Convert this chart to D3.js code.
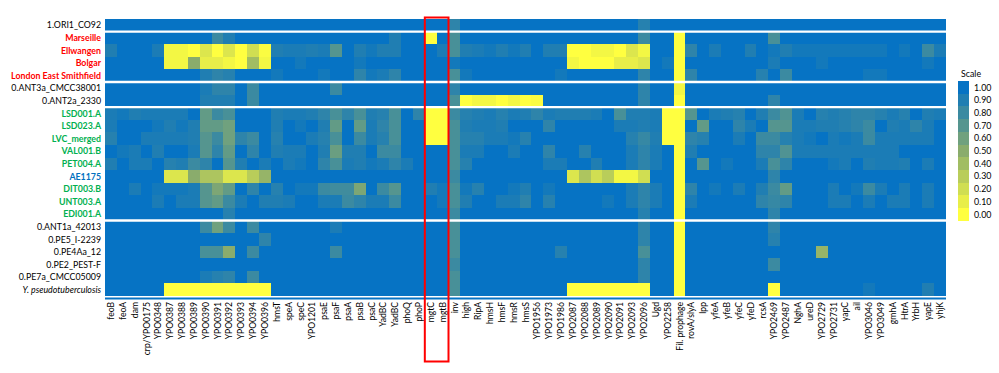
<!DOCTYPE html>
<html>
<head>
<meta charset="utf-8">
<style>
body { margin: 0; background: #fff; }
svg text { font-family: Lato, "Open Sans", sans-serif; }
</style>
</head>
<body>
<div id="chart"></div>
<script src="https://cdn.jsdelivr.net/npm/d3@7"></script>
<script>
// gene columns (x axis) - note YadBC appears twice
var genes = ["feoB","feoA","dam","crp/YPO0175","YPO0348","YPO0387","YPO0388","YPO0389","YPO0390","YPO0391",
  "YPO0392","YPO0393","YPO0394","YPO0396","hmsT","speA","speC","YPO1201","psaE","psaF",
  "psaA","psaB","psaC","YadBC","YadBC","phoQ","phoP","mgtC","mgtB","inv",
  "high","RipA","hmsH","hmsF","hmsR","hmsS","YPO1956","YPO1973","YPO1986","YPO2087",
  "YPO2088","YPO2089","YPO2090","YPO2091","YPO2093","YPO2096","Ugd","YPO2258","Fil. prophage","rovA/slyA",
  "lpp","yfeA","yfeB","yfeC","yfeD","rcsA","YPO2469","YPO2487","NghA","ureD",
  "YPO2729","YPO2731","yapC","ail","YPO3046","YPO3049","gmhA","HtrA","YrbH","yapE","yhjK"];

// genomes (rows) and label colours
var genomes = ["1.ORI1_CO92","Marseille","Ellwangen","Bolgar","London East Smithfield",
  "0.ANT3a_CMCC38001","0.ANT2a_2330","LSD001.A","LSD023.A","LVC_merged","VAL001.B","PET004.A",
  "AE1175","DIT003.B","UNT003.A","EDI001.A","0.ANT1a_42013","0.PE5_I-2239","0.PE4Aa_12",
  "0.PE2_PEST-F","0.PE7a_CMCC05009","Y. pseudotuberculosis"];
var groups = ["ref","red","red","red","red","black","black","green","green","green","green","green",
  "blue","green","green","green","black","black","black","black","black","italic"];
// separators drawn after these row indices
var breaksAfter = [0, 4, 6, 15];

// coverage values per genome, one per gene column
var ori1 =    [1,1,1,1,1,1,1,1,1,1, 1,1,1,1,1,1,1,1,1,1, 1,1,1,1,1,1,1,1,1,0.85, 1,1,1,1,1,1,1,1,1,1, 1,1,1,1,1,0.88,1,1,1,1, 1,1,1,1,1,1,1,1,1,1, 1,1,1,1,1,1,1,1,1,1, 1];
var marseille=[1,1,1,1,1,1,1,1,1,0.8, 0.9,1,1,1,1,1,1,1,1,1, 1,1,1,1,0.9,1,1,0,1,0.75, 1,1,1,1,1,1,1,1,1,1, 1,1,1,1,1,0.8,1,1,0,1, 1,1,1,1,1,1,0.75,1,1,1, 1,1,1,1,1,1,1,1,1,1, 1];
var ellwangen=[0.9,1,1,1,0.92,0.05,0.05,0,0.15,0, 0.15,0,0.2,0.02,0.9,0.92,0.92,0.9,0.92,0.7, 1,0.9,0.95,0.9,0.9,1,1,1,0.92,0.75, 0.9,0.92,0.95,0.9,0.95,0.9,1,0.9,0.9,0, 0,0.05,0.05,0,0.15,0.05,1,1,0,0.85, 1,0.92,1,1,0.9,1,0.95,0.9,0.95,0.95, 0.95,0.95,0.95,0.95,0.95,0.95,1,0.95,1,0.8, 0.92];
var bolgar =  [1,1,1,1,1,0.05,0.05,0.5,0.1,0.1, 0.05,0,0.4,0.05,1,1,0.95,1,1,1, 1,0.95,1,1,1,1,1,1,1,0.95, 1,1,1,1,1,1,1,1,1,0.05, 0,0,0,0.1,0.1,0.15,1,0.95,0,1, 1,1,1,1,1,1,0.92,1,1,1, 0.95,1,1,1,1,1,1,1,1,0.95, 1];
var london =  [1,1,1,1,1,1,1,1,0.9,0.85, 0.88,1,1,1,0.95,1,1,1,0.95,1, 1,0.85,0.95,0.92,0.85,1,1,1,1,0.75, 0.95,1,1,1,1,1,1,1,0.95,1, 1,1,1,1,1,0.85,1,1,0,0.85, 1,1,1,1,1,0.88,1,0.8,1,1, 1,1,1,1,0.95,0.95,1,1,1,1, 1];
var ant3a =   [1,1,1,1,1,1,1,1,0.92,0.85, 0.85,1,0.8,1,1,1,1,1,1,0.8, 1,1,1,1,1,1,1,1,1,0.85, 1,1,1,1,1,1,1,1,1,1, 1,1,1,1,1,0.85,1,1,0.05,1, 1,1,1,1,1,1,1,1,1,1, 1,1,1,1,1,1,1,1,1,1, 1];
var ant2a =   [1,1,1,1,1,1,1,1,0.9,0.9, 0.9,1,0.8,1,1,1,1,1,1,1, 1,1,1,1,1,1,1,1,1,0.75, 0,0.05,0.05,0,0.05,0,0.02,1,1,1, 1,1,1,1,1,0.85,1,1,0,1, 1,1,1,1,1,1,0.85,1,1,1, 1,1,1,1,1,1,1,1,1,1, 1];
var lsd001 =  [0.92,0.95,0.9,0.92,0.92,0.92,0.92,1,0.65,0.8, 0.75,1,1,1,0.9,0.92,0.92,0.9,0.85,0.75, 0.85,0.75,0.9,0.88,0.75,1,0.85,0,0,0.8, 0.88,0.9,0.92,0.88,0.92,0.9,0.85,0.92,0.9,0.9, 0.9,0.92,1,0.75,0.9,0.9,0.92,0,0,0.7, 1,0.92,0.9,0.88,1,0.9,0.8,0.72,0.92,1, 0.88,0.9,0.88,0.85,0.85,0.88,0.92,0.88,1,0.9, 0.92];
var lsd023 =  [0.92,1,1,1,0.95,0.9,0.95,0.9,0.65,0.65, 0.6,1,1,1,0.9,1,0.95,1,0.9,0.65, 1,0.65,0.92,0.85,0.75,1,1,0,0,0.75, 0.9,0.92,0.92,0.9,1,1,1,0.85,1,1, 1,1,1,0.92,0.92,0.9,0.92,0,0,1, 0.65,1,1,0.85,0.92,1,0.7,0.7,0.92,0.92, 0.9,0.9,0.88,0.85,0.8,1,0.9,0.92,0.85,0.92, 1];
var lvc =     [0.88,1,1,0.92,0.92,0.92,0.92,0.9,0.7,0.8, 0.6,0.85,0.8,1,0.88,1,1,0.92,0.88,0.75, 1,0.8,0.92,0.88,0.75,1,1,0,0,0.75, 0.88,0.88,0.92,0.92,0.95,0.88,1,1,1,1, 1,1,1,1,0.88,0.82,0.9,0,0,0.85, 0.88,1,1,0.92,1,0.8,0.8,0.88,0.92,0.95, 1,0.92,0.95,0.92,0.8,0.92,0.92,0.92,0.92,0.92, 1];
var val001 =  [1,0.95,0.92,1,0.9,1,1,0.92,0.7,0.85, 0.65,1,0.85,1,0.9,0.92,0.92,1,0.9,0.62, 0.9,0.9,1,0.8,0.8,1,1,1,1,0.75, 0.92,0.92,1,1,0.92,1,1,0.85,1,1, 0.88,1,1,1,0.92,0.85,0.92,1,0,0.9, 1,1,1,1,1,0.85,0.85,0.72,0.92,0.92, 0.92,0.92,0.92,0.92,0.92,0.92,0.92,1,1,1, 1];
var pet004 =  [0.9,1,0.92,0.92,1,0.88,0.9,0.8,0.85,1, 0.7,0.9,1,0.92,1,0.92,0.95,1,0.85,0.75, 0.92,0.9,0.95,0.92,0.85,0.92,1,1,1,0.75, 0.88,1,1,1,1,1,1,0.92,0.92,1, 1,0.9,1,1,0.92,0.85,0.92,1,0,1, 0.7,1,0.95,1,1,0.92,0.75,0.85,1,1, 1,0.95,0.92,1,0.9,0.92,0.92,0.9,1,0.92, 1];
var ae1175 =  [1,1,1,1,1,0.15,0.15,0.5,0.35,0.35, 0.15,0.15,0.3,0.45,1,1,1,1,1,1, 1,1,1,1,1,1,1,1,1,0.8, 1,1,1,1,1,1,1,1,1,0.15, 0.35,0.2,0.3,0.05,0.05,0.2,1,1,0,1, 1,1,1,1,1,1,0.85,1,1,1, 1,1,1,1,1,1,1,1,1,1, 1];
var dit003 =  [1,1,0.92,1,0.95,0.95,0.95,0.92,0.7,0.55, 0.65,1,0.85,1,0.88,1,0.95,0.95,0.8,0.78, 0.78,0.55,1,0.8,0.7,1,1,0.9,0.95,0.75, 0.95,0.88,1,1,0.95,0.9,1,0.95,1,1, 1,1,1,1,0.92,0.85,0.92,1,0,0.85, 1,0.95,1,0.92,1,0.9,0.8,0.65,1,1, 1,0.92,1,0.95,0.8,0.92,1,0.92,1,0.92, 1];
var unt003 =  [1,1,1,1,0.92,1,0.92,0.92,0.7,0.65, 0.8,0.92,1,0.9,0.9,0.92,1,1,0.92,0.92, 0.8,0.85,0.92,0.92,0.8,1,1,1,0.95,0.75, 0.9,1,1,0.92,0.92,0.85,1,0.88,1,1, 1,1,0.95,1,0.92,0.85,0.92,1,0,0.92, 1,1,1,1,1,0.85,0.82,0.85,1,1, 1,0.92,0.92,1,0.92,1,0.92,0.92,1,0.92, 1];
var edi001 =  [1,1,1,1,1,1,1,1,1,1, 0.88,1,1,1,1,1,1,1,1,1, 1,1,1,1,1,1,1,1,1,0.8, 1,1,1,1,1,1,1,1,1,1, 1,1,1,1,1,0.88,1,1,0,1, 1,1,1,1,1,1,0.85,1,1,1, 1,1,1,1,1,1,1,1,1,1, 1];
var ant1a =   [1,1,1,1,1,1,1,1,0.8,0.6, 0.8,1,0.8,1,1,1,1,1,1,0.92, 1,1,1,1,1,1,1,1,1,0.75, 1,1,1,1,1,1,1,1,1,1, 1,1,1,1,1,0.85,1,1,0,1, 1,1,1,1,1,1,0.85,1,1,1, 1,1,1,1,1,1,1,1,1,1, 1];
var pe5 =     [1,1,1,1,1,1,1,1,1,1, 1,1,1,0.85,1,1,1,1,1,1, 1,1,1,1,1,1,1,1,1,0.75, 1,1,1,1,1,1,1,1,1,1, 1,1,1,1,1,0.85,1,1,0,1, 1,1,1,1,1,1,0.88,1,1,1, 1,1,1,1,1,1,1,1,1,1, 1];
var pe4aa =   [1,1,1,1,1,1,1,1,0.75,0.75, 0.5,1,0.8,1,1,1,1,1,1,0.8, 1,1,1,1,1,1,1,1,1,0.75, 1,1,1,1,1,1,1,1,0.88,1, 1,1,1,1,1,0.75,1,1,0,1, 1,1,1,1,1,1,1,1,1,1, 0.45,1,1,1,1,1,1,1,1,1, 1];
var pe2 =     [1,1,1,1,1,1,1,1,1,1, 1,1,1,1,1,1,1,1,1,1, 1,1,1,1,1,1,1,1,1,0.8, 1,1,1,1,1,1,1,1,1,1, 1,1,1,1,1,0.85,1,1,0,1, 1,1,1,1,1,1,0.8,1,1,1, 1,1,1,1,1,1,1,1,1,1, 1];
var pe7a =    [1,1,1,1,1,1,1,1,0.92,0.88, 0.85,1,0.8,1,1,1,1,1,1,1, 1,1,1,1,1,1,1,1,1,0.75, 1,1,1,1,1,1,1,1,1,1, 1,1,1,1,1,0.85,1,1,0,1, 1,1,1,1,1,1,1,1,1,1, 1,1,1,1,1,1,1,1,1,1, 1];
var ypseudo = [1,1,1,1,1,0,0,0,0,0, 0,0,0,0,1,1,1,1,1,1, 1,1,1,1,1,1,1,1,1,0.75, 1,1,1,1,1,1,1,1,1,0, 0,0,0,0,0,0,1,1,0,1, 1,1,1,1,1,1,0,1,1,1, 1,1,1,1,0.95,1,1,1,1,0.9, 1];

var values = [ori1, marseille, ellwangen, bolgar, london, ant3a, ant2a, lsd001, lsd023, lvc,
  val001, pet004, ae1175, dit003, unt003, edi001, ant1a, pe5, pe4aa, pe2, pe7a, ypseudo];

var legendTicks = [1.00, 0.90, 0.80, 0.70, 0.60, 0.50, 0.40, 0.30, 0.20, 0.10, 0.00];
var highlighted = [27, 28]; // mgtC, mgtB column indices

var W = 999, H = 373;
var svg = d3.select("#chart").append("svg").attr("width", W).attr("height", H);

// band over column index, since gene names are not unique
var x = d3.scaleBand().domain(d3.range(genes.length)).range([105, 946]);
var y = d3.scaleBand().domain(d3.range(genomes.length)).range([19, 296]);
var color = d3.scaleLinear().domain([0, 0.5, 1])
  .range(["#ffff40", "#8aac6c", "#0673c4"]);

var cells = [];
values.forEach(function (row, i) {
  row.forEach(function (v, j) {
    cells.push({row: i, col: j, v: v});
  });
});

svg.append("g").selectAll("rect")
  .data(cells)
  .enter().append("rect")
    .attr("x", function (d) { return x(d.col); })
    .attr("y", function (d) { return y(d.row); })
    .attr("width", x.bandwidth() + 0.3)
    .attr("height", y.bandwidth() + 0.3)
    .attr("fill", function (d) { return color(d.v); })
    .attr("shape-rendering", "crispEdges");

// white group separators
svg.append("g").selectAll("line")
  .data(breaksAfter)
  .enter().append("line")
    .attr("x1", 105).attr("x2", 946)
    .attr("y1", function (i) { return y(i + 1); })
    .attr("y2", function (i) { return y(i + 1); })
    .attr("stroke", "#fff").attr("stroke-width", 2.4);

// blue rule under the map
svg.append("rect").attr("x", 105).attr("y", 297.5).attr("width", 841).attr("height", 2)
  .attr("fill", "#0673c4");

// row labels
var fills = {ref: "#000", black: "#000", italic: "#000", red: "#ff0000", green: "#00b050", blue: "#0070c0"};
svg.append("g").selectAll("text")
  .data(genomes)
  .enter().append("text")
    .attr("x", 101)
    .attr("y", function (d, i) { return y(i) + y.bandwidth() / 2; })
    .attr("dy", "0.36em")
    .attr("text-anchor", "end")
    .attr("font-size", 8.8)
    .attr("font-weight", function (d, i) { return ["red", "green", "blue"].indexOf(groups[i]) >= 0 ? "bold" : "normal"; })
    .attr("font-style", function (d, i) { return groups[i] == "italic" ? "italic" : "normal"; })
    .attr("fill", function (d, i) { return fills[groups[i]]; })
    .text(function (d) { return d; });

// column labels, rotated
svg.append("g").selectAll("text")
  .data(genes)
  .enter().append("text")
    .attr("transform", function (d, i) {
      return "translate(" + (x(i) + x.bandwidth() / 2) + ",302) rotate(-90)";
    })
    .attr("dy", "0.36em")
    .attr("text-anchor", "end")
    .attr("font-size", 8.6)
    .attr("fill", "#000")
    .text(function (d) { return d; });

// red highlight box
svg.append("rect")
  .attr("x", x(highlighted[0]))
  .attr("y", 17.5)
  .attr("width", x.step() * highlighted.length)
  .attr("height", 344)
  .attr("fill", "none")
  .attr("stroke", "#ff0000")
  .attr("stroke-width", 2);

// legend
var lg = svg.append("g").attr("transform", "translate(958,81)");
lg.append("text").attr("x", 3).attr("y", -4).attr("font-size", 8.8).attr("fill", "#000").text("Scale");
lg.selectAll("rect")
  .data(legendTicks)
  .enter().append("rect")
    .attr("x", 0)
    .attr("y", function (d, i) { return i * 12.7; })
    .attr("width", 11)
    .attr("height", 12.8)
    .attr("fill", function (d) { return color(d); })
    .attr("shape-rendering", "crispEdges");
lg.selectAll("text.tick")
  .data(legendTicks)
  .enter().append("text")
    .attr("class", "tick")
    .attr("x", 16)
    .attr("y", function (d, i) { return i * 12.7 + 6.4; })
    .attr("dy", "0.36em")
    .attr("font-size", 8.8)
    .attr("fill", "#000")
    .text(function (d) { return d.toFixed(2); });
</script>
</body>
</html>
